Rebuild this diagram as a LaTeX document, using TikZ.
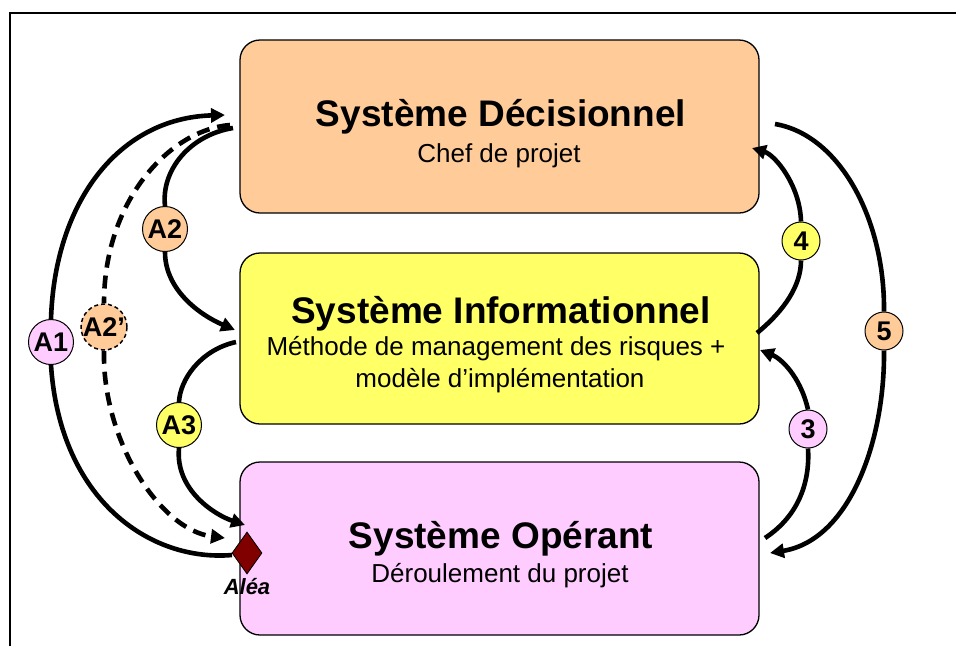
\documentclass[tikz,border=0pt]{standalone}
\usepackage{fontspec}
\setmainfont{Liberation Sans}
\usetikzlibrary{arrows.meta,shapes.geometric}
\definecolor{orangeC}{HTML}{FFCC99}
\definecolor{yellowC}{HTML}{FFFF66}
\definecolor{pinkC}{HTML}{FFCCFF}
\definecolor{aleaC}{HTML}{800000}
\tikzset{
  sysbox/.style={draw, line width=1.3pt, rounded corners=20pt, inner sep=0pt},
  title/.style={anchor=base, font=\fontsize{37}{44}\selectfont\bfseries, inner sep=0pt},
  subt/.style={anchor=base, font=\fontsize{26}{31}\selectfont, inner sep=0pt},
  badge/.style={circle, draw, line width=1pt, inner sep=0pt, minimum size=45pt, font=\fontsize{27}{30}\selectfont\bfseries},
  numbadge/.style={circle, draw, line width=1pt, inner sep=0pt, minimum size=38pt, font=\fontsize{27}{30}\selectfont\bfseries},
  conn/.style={line width=4.6pt},
  arr/.style={line width=4.6pt, -{Triangle[length=14pt,width=14pt]}},
  dashconn/.style={line width=4.6pt, dash pattern=on 13pt off 8pt},
}
\begin{document}
\begin{tikzpicture}[x=1pt,y=-1pt]
\useasboundingbox (0,0) rectangle (956,646);
\fill[white] (0,0) rectangle (956,646);
% frame
\draw[line width=2.5pt] (10,646) -- (10,13) -- (956,13);
% boxes
\node[sysbox, fill=orangeC, minimum width=519pt, minimum height=173pt] (dec) at (499.5,126.5) {};
\node[sysbox, fill=yellowC, minimum width=519pt, minimum height=171pt] (inf) at (499.5,338.5) {};
\node[sysbox, fill=pinkC, minimum width=519pt, minimum height=173pt] (ope) at (499.5,548.5) {};
% texts
\node[title] (decT) at (501,126) {Système Décisionnel};
\node[subt] (decS) at (499,162) {Chef de projet};
\node[title] (infT) at (501,323) {Système Informationnel};
\node[subt] (infS1) at (496,355) {Méthode de management des risques +};
\node[subt] (infS2) at (500,387) {modèle d’implémentation};
\node[title] (opeT) at (501,548) {Système Opérant};
\node[subt] (opeS) at (500,582) {Déroulement du projet};
% alea
\node[diamond, draw, line width=0.8pt, fill=aleaC, minimum width=30pt, minimum height=42pt, inner sep=0pt] (alea) at (247,553) {};
\node[anchor=base, inner sep=0pt, font=\fontsize{22}{25}\selectfont\bfseries\itshape] (aleaT) at (247,594) {Aléa};
% badges
\node[badge, fill=pinkC] (A1) at (51,342) {A1};
\node[badge, fill=orangeC, dashed, dash pattern=on 4pt off 3pt, line width=1.5pt] (A2p) at (104,327) {A2’};
\node[badge, fill=orangeC] (A2) at (165,229) {A2};
\node[badge, fill=yellowC] (A3) at (179,425) {A3};
\node[numbadge, fill=yellowC] (B4) at (801,241) {4};
\node[numbadge, fill=orangeC] (B5) at (884,331) {5};
\node[numbadge, fill=pinkC] (B3) at (808,429) {3};
% connector end points
\coordinate (a1s) at (232,555);
\coordinate (a1e) at (225,115);
\coordinate (a2ps) at (230,125);
\coordinate (a2pe) at (225,538);
\coordinate (a2s) at (233,128);
\coordinate (a2e) at (235,330);
\coordinate (a3s) at (236,342);
\coordinate (a3e) at (245,525);
\coordinate (b4s) at (757,333);
\coordinate (b4e) at (752,148);
\coordinate (b3s) at (765,538);
\coordinate (b3e) at (760,350);
\coordinate (b5s) at (775,124);
\coordinate (b5e) at (770,553);
% A1
\draw[conn] (a1s) .. controls (150,562) and (60,500) .. (A1.south);
\draw[arr] (A1.north) .. controls (55,200) and (120,118) .. (a1e);
% A2'
\draw[dashconn] (a2ps) .. controls (170,130) and (104,200) .. (A2p.north);
\draw[dashconn, -{Triangle[length=14pt,width=14pt]}] (A2p.south) .. controls (102,440) and (160,530) .. (a2pe);
% A2
\draw[conn] (a2s) .. controls (190,135) and (161,170) .. (A2.north);
\draw[arr] (A2.south) .. controls (165,290) and (200,315) .. (a2e);
% A3
\draw[conn] (a3s) .. controls (200,350) and (180,380) .. (A3.north);
\draw[arr] (A3.south) .. controls (175,490) and (215,515) .. (a3e);
% 4
\draw[conn] (b4s) .. controls (785,310) and (801,285) .. (B4.south);
\draw[arr] (B4.north) .. controls (800,185) and (775,155) .. (b4e);
% 3
\draw[conn] (b3s) .. controls (800,515) and (810,480) .. (B3.south);
\draw[arr] (B3.north) .. controls (800,375) and (780,358) .. (b3e);
% 5
\draw[conn] (b5s) .. controls (840,135) and (885,220) .. (B5.north);
\draw[arr] (B5.south) .. controls (885,440) and (850,540) .. (b5e);
\end{tikzpicture}
\end{document}
